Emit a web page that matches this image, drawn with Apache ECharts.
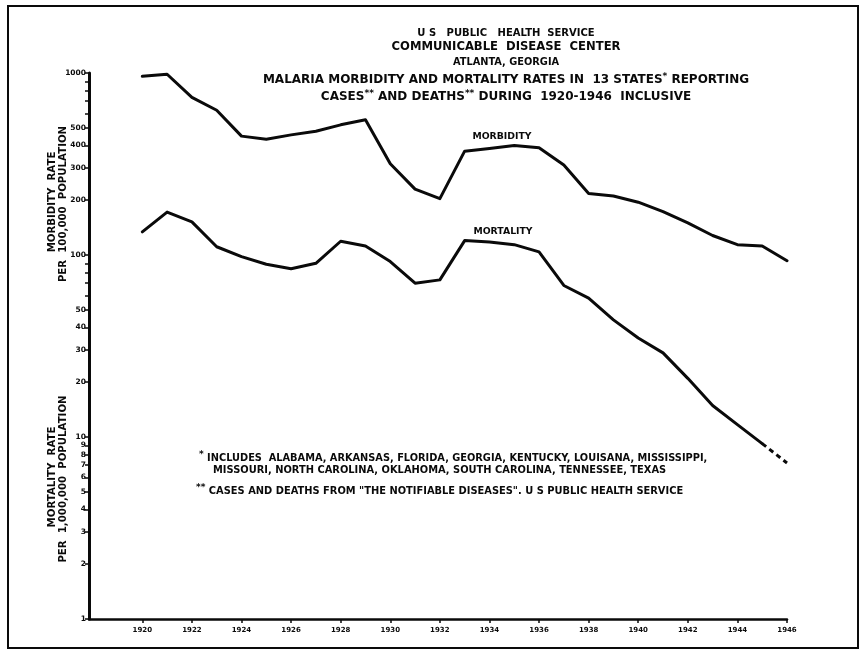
<!DOCTYPE html>
<html>
<head>
<meta charset="utf-8">
<script src="https://cdn.jsdelivr.net/npm/echarts@6/dist/echarts.min.js"></script>
<style>
  html, body { margin: 0; padding: 0; background: #ffffff; }
  #chart { width: 862px; height: 656px; }
</style>
</head>
<body>
<div id="chart"></div>
<script>
// Malaria morbidity (per 100,000) and mortality (per 1,000,000), 13 states, 1920-1946
const years = [1920, 1921, 1922, 1923, 1924, 1925, 1926, 1927, 1928, 1929,
               1930, 1931, 1932, 1933, 1934, 1935, 1936, 1937, 1938, 1939,
               1940, 1941, 1942, 1943, 1944, 1945, 1946];
const morbidity = [959, 984, 735, 624, 450, 433, 457, 479, 519, 553,
                   317, 230, 204, 372, 385, 400, 388, 312, 218, 211,
                   195, 173, 150, 128, 114, 112, 93];
const mortality = [134, 172, 152, 111, 98, 89, 84, 90, 119, 112,
                   92, 70, 73, 120, 118, 114, 104, 68, 58, 44,
                   35, 29, 21, 14.9, 11.7, 9.2, 7.2];
// last mortality segment is provisional and drawn dashed
const provisionalFrom = 1945;

const yTickValues = [1, 2, 3, 4, 5, 6, 7, 8, 9, 10, 20, 30, 40, 50, 60, 70, 80, 90,
                     100, 200, 300, 400, 500, 600, 700, 800, 900, 1000];
const yLabelValues = [1, 2, 3, 4, 5, 6, 7, 8, 9, 10, 20, 30, 40, 50,
                      100, 200, 300, 400, 500, 1000];
const xLabelValues = [1920, 1922, 1924, 1926, 1928, 1930, 1932, 1934, 1936,
                      1938, 1940, 1942, 1944, 1946];

const FONT = "'DejaVu Sans', 'Liberation Sans', sans-serif";
const INK = '#0a0a0a';

const pairs = (vals) => years.map((y, i) => [y, vals[i]]);
const mortalitySolid = pairs(mortality).filter(p => p[0] <= provisionalFrom);
const mortalityDashed = pairs(mortality).filter(p => p[0] >= provisionalFrom);

const chart = echarts.init(document.getElementById('chart'), null, { renderer: 'canvas' });

const lineStyle = { color: INK, width: 3, cap: 'round', join: 'round' };

const txt = (x, y, text, size, extra) => ({
  type: 'text', x: x, y: y, silent: true,
  style: Object.assign({
    text: text, fill: INK, font: 'bold ' + size + 'px ' + FONT,
    textAlign: 'center', textVerticalAlign: 'middle'
  }, extra || {})
});

const supRich = (size) => ({
  sup: { fontSize: size, fontWeight: 'bold', fontFamily: FONT, fill: INK, verticalAlign: 'top', padding: [0, 0, 6, 0] }
});

const rotated = (x, y, text, size) => Object.assign(txt(0, 0, text, size), { x: x, y: y, rotation: Math.PI / 2 });

chart.setOption({
  backgroundColor: '#ffffff',
  animation: false,
  grid: { left: 89, right: 75, top: 73, bottom: 37, containLabel: false },
  xAxis: {
    type: 'value',
    min: 1917.85,
    max: 1946,
    axisLine: { show: true, lineStyle: { color: INK, width: 2.5 } },
    axisTick: { show: true, length: 4, customValues: xLabelValues, lineStyle: { color: INK, width: 1.5 } },
    axisLabel: {
      customValues: xLabelValues, margin: 8,
      color: INK, fontSize: 7, fontWeight: 'bold', fontFamily: FONT,
      formatter: (v) => String(v)
    },
    splitLine: { show: false }
  },
  yAxis: {
    type: 'log',
    logBase: 10,
    min: 1,
    max: 1000,
    axisLine: { show: true, lineStyle: { color: INK, width: 3 } },
    axisTick: { show: true, length: 4, customValues: yTickValues, lineStyle: { color: INK, width: 1.5 } },
    axisLabel: {
      customValues: yLabelValues, margin: 3,
      color: INK, fontSize: 7.5, fontWeight: 'bold', fontFamily: FONT,
      formatter: (v) => String(Math.round(v))
    },
    splitLine: { show: false }
  },
  series: [
    { name: 'Morbidity', type: 'line', data: pairs(morbidity), showSymbol: false, symbol: 'none', lineStyle: lineStyle },
    { name: 'Mortality', type: 'line', data: mortalitySolid, showSymbol: false, symbol: 'none', lineStyle: lineStyle },
    { name: 'Mortality (provisional)', type: 'line', data: mortalityDashed, showSymbol: false, symbol: 'none',
      lineStyle: Object.assign({}, lineStyle, { type: [5, 4], cap: 'butt' }) }
  ],
  graphic: [
    // outer frame
    { type: 'rect', shape: { x: 8, y: 6, width: 850, height: 642 }, silent: true,
      style: { fill: 'none', stroke: INK, lineWidth: 2 } },
    // heading block
    txt(506, 33, 'U S   PUBLIC   HEALTH  SERVICE', 10),
    txt(506, 47, 'COMMUNICABLE  DISEASE  CENTER', 11.6),
    txt(506, 62, 'ATLANTA, GEORGIA', 9.8),
    txt(506, 80, 'MALARIA MORBIDITY AND MORTALITY RATES IN  13 STATES{sup|*} REPORTING', 12, { rich: supRich(9) }),
    txt(506, 97, 'CASES{sup|**} AND DEATHS{sup|**} DURING  1920-1946  INCLUSIVE', 12, { rich: supRich(9) }),
    // series labels
    txt(502, 137, 'MORBIDITY', 9.3),
    txt(503, 232, 'MORTALITY', 9.3),
    // footnotes
    txt(199, 458, '{sup|*} INCLUDES  ALABAMA, ARKANSAS, FLORIDA, GEORGIA, KENTUCKY, LOUISANA, MISSISSIPPI,', 9.8,
        { textAlign: 'left', rich: supRich(9) }),
    txt(213, 470, 'MISSOURI, NORTH CAROLINA, OKLAHOMA, SOUTH CAROLINA, TENNESSEE, TEXAS', 9.9, { textAlign: 'left' }),
    txt(196, 491, '{sup|**} CASES AND DEATHS FROM "THE NOTIFIABLE DISEASES". U S PUBLIC HEALTH SERVICE', 9.9,
        { textAlign: 'left', rich: supRich(9) }),
    // axis titles (rotated)
    rotated(52, 202, 'MORBIDITY  RATE', 10.2),
    rotated(63, 204, 'PER  100,000  POPULATION', 10.2),
    rotated(52, 477, 'MORTALITY  RATE', 10.2),
    rotated(63, 479, 'PER  1,000,000  POPULATION', 10.2)
  ]
});
</script>
</body>
</html>
